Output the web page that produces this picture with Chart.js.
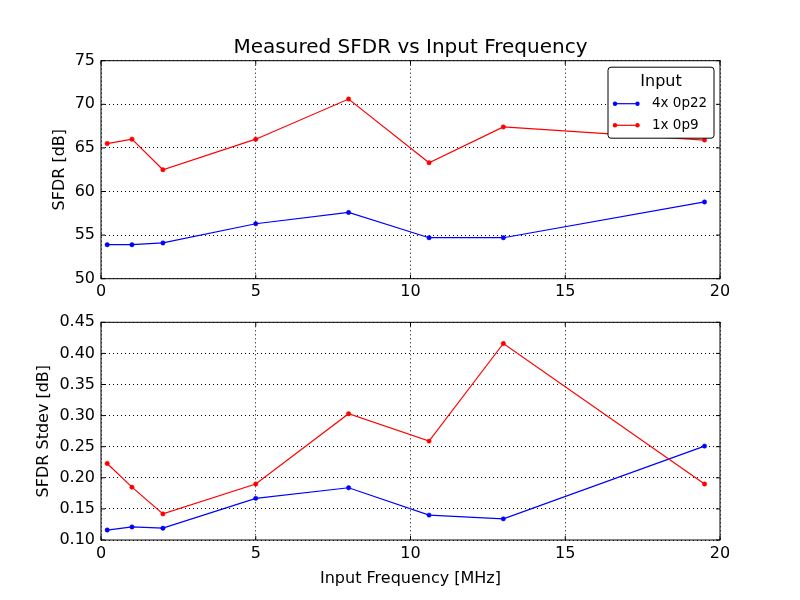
<!DOCTYPE html>
<html>
<head>
<meta charset="utf-8">
<script src="https://cdn.jsdelivr.net/npm/chart.js@4.4.0/dist/chart.umd.min.js"></script>
<style>
  html, body { margin: 0; padding: 0; background: #fff; }
  #wrap { position: relative; width: 800px; height: 600px; }
  canvas { position: absolute; left: 0; }
</style>
</head>
<body>
<div id="wrap">
  <canvas id="topChart" width="800" height="300" style="top:0"></canvas>
  <canvas id="bottomChart" width="800" height="300" style="top:300px"></canvas>
</div>
<script>
// input frequency in MHz
const freq = [0.2, 1, 2, 5, 8, 10.6, 13, 19.5];

// SFDR [dB]
const sfdr4x = [53.9, 53.9, 54.1, 56.3, 57.6, 54.7, 54.7, 58.8];
const sfdr1x = [65.5, 66.0, 62.5, 66.0, 70.6, 63.3, 67.4, 65.9];

// SFDR stdev [dB]
const std4x = [0.116, 0.121, 0.119, 0.167, 0.184, 0.140, 0.134, 0.251];
const std1x = [0.223, 0.185, 0.142, 0.190, 0.303, 0.259, 0.416, 0.190];

const seriesNames = ['4x 0p22', '1x 0p9'];
const seriesColors = ['#0000ff', '#ff0000'];

const FONT = 'DejaVu Sans';
Chart.defaults.font.family = FONT;
Chart.defaults.color = '#000';

const pts = (vals) => freq.map((f, i) => ({x: f, y: vals[i]}));

function makeSet(idx, vals) {
    return {
        label: seriesNames[idx],
        data: pts(vals),
        borderColor: seriesColors[idx],
        backgroundColor: seriesColors[idx],
        pointBackgroundColor: seriesColors[idx],
        pointBorderColor: seriesColors[idx],
        borderWidth: 1.2,
        pointRadius: 2.2,
        pointBorderWidth: 0.5,
        tension: 0,
        order: idx === 0 ? 1 : 0,
    };
}

// matplotlib-ish frame with inward ticks on every side
const framePlugin = {
    id: 'frame',
    afterDatasetsDraw(chart) {
        const {ctx, chartArea: a, scales} = chart;
        ctx.save();
        ctx.strokeStyle = '#000';
        ctx.lineWidth = 1;
        ctx.strokeRect(a.left, a.top, a.width, a.height);
        ctx.beginPath();
        scales.x.ticks.forEach(t => {
            const px = scales.x.getPixelForValue(t.value);
            ctx.moveTo(px, a.bottom); ctx.lineTo(px, a.bottom - 4);
            ctx.moveTo(px, a.top); ctx.lineTo(px, a.top + 4);
        });
        scales.y.ticks.forEach(t => {
            const py = scales.y.getPixelForValue(t.value);
            ctx.moveTo(a.left, py); ctx.lineTo(a.left + 4, py);
            ctx.moveTo(a.right, py); ctx.lineTo(a.right - 4, py);
        });
        ctx.stroke();
        ctx.restore();
    }
};

// boxed legend in the upper right, like the reference
const boxLegend = {
    id: 'boxLegend',
    afterDraw(chart, args, opts) {
        if (!opts.display) return;
        const {ctx, chartArea: a} = chart;
        const w = 106, h = 71;
        const x0 = a.right - 112, y0 = a.top + 6.5;
        ctx.save();
        ctx.fillStyle = '#fff';
        ctx.strokeStyle = '#000';
        ctx.lineWidth = 1;
        ctx.beginPath();
        ctx.roundRect(x0, y0, w, h, 3);
        ctx.fill();
        ctx.stroke();
        ctx.fillStyle = '#000';
        ctx.textAlign = 'center';
        ctx.textBaseline = 'middle';
        ctx.font = '16px ' + FONT;
        ctx.fillText(opts.title, x0 + w / 2, y0 + 14.5);
        ctx.textAlign = 'left';
        ctx.font = '13.5px ' + FONT;
        chart.data.datasets.forEach((ds, i) => {
            const ly = y0 + 36.5 + i * 21.6;
            ctx.strokeStyle = ds.borderColor;
            ctx.fillStyle = ds.borderColor;
            ctx.lineWidth = 1.2;
            ctx.beginPath();
            ctx.moveTo(x0 + 7, ly); ctx.lineTo(x0 + 29.5, ly);
            ctx.stroke();
            [x0 + 7, x0 + 29.5].forEach(mx => {
                ctx.beginPath();
                ctx.arc(mx, ly, 2.2, 0, Math.PI * 2);
                ctx.fill();
            });
            ctx.fillStyle = '#000';
            ctx.fillText(ds.label, x0 + 44, ly);
        });
        ctx.restore();
    }
};

const gridStyle = {
    color: '#000',
    lineWidth: 1,
    drawTicks: false,
};
const dotted = {dash: [1, 3]};

function buildChart(id, sets, cfg) {
    return new Chart(document.getElementById(id), {
        type: 'line',
        data: {datasets: sets},
        plugins: [framePlugin, boxLegend],
        options: {
            responsive: false,
            animation: false,
            devicePixelRatio: 1,
            layout: {padding: {left: 0, right: 80, top: cfg.padTop, bottom: 0}},
            plugins: {
                legend: {display: false},
                tooltip: {enabled: false},
                title: cfg.title ? {
                    display: true,
                    text: cfg.title,
                    color: '#000',
                    fullSize: false,
                    font: {size: 20, weight: 'normal'},
                    padding: {top: 35.3, bottom: 1.4},
                } : {display: false},
                boxLegend: {display: cfg.legend, title: 'Input'},
            },
            scales: {
                x: {
                    type: 'linear',
                    min: 0, max: 20,
                    grid: gridStyle,
                    border: {display: false, ...dotted},
                    ticks: {stepSize: 5, padding: 4, font: {size: 16}, maxRotation: 0},
                    title: cfg.xTitle ? {
                        display: true, text: cfg.xTitle,
                        font: {size: 16}, padding: {top: 0, bottom: 11.6},
                    } : {display: false},
                    afterFit: s => { s.height = cfg.xHeight; },
                },
                y: {
                    min: cfg.yMin, max: cfg.yMax,
                    grid: gridStyle,
                    border: {display: false, ...dotted},
                    ticks: {
                        stepSize: cfg.yStep, padding: 6, font: {size: 16},
                        callback: v => v.toFixed(cfg.yDec),
                    },
                    title: {
                        display: true, text: cfg.yTitle,
                        font: {size: 16}, padding: {top: cfg.yTitleOff, bottom: 0},
                    },
                    afterFit: s => { s.width = 101; },
                },
            },
        },
    });
}

buildChart('topChart', [makeSet(0, sfdr4x), makeSet(1, sfdr1x)], {
    title: 'Measured SFDR vs Input Frequency',
    legend: true,
    padTop: 0,
    xHeight: 21.3,
    yMin: 50, yMax: 75, yStep: 5, yDec: 0,
    yTitle: 'SFDR [dB]', yTitleOff: 49.9,
});

buildChart('bottomChart', [makeSet(0, std4x), makeSet(1, std1x)], {
    legend: false,
    padTop: 22.3,
    xHeight: 60,
    xTitle: 'Input Frequency [MHz]',
    yMin: 0.10, yMax: 0.45, yStep: 0.05, yDec: 2,
    yTitle: 'SFDR Stdev [dB]', yTitleOff: 33.9,
});
</script>
</body>
</html>
